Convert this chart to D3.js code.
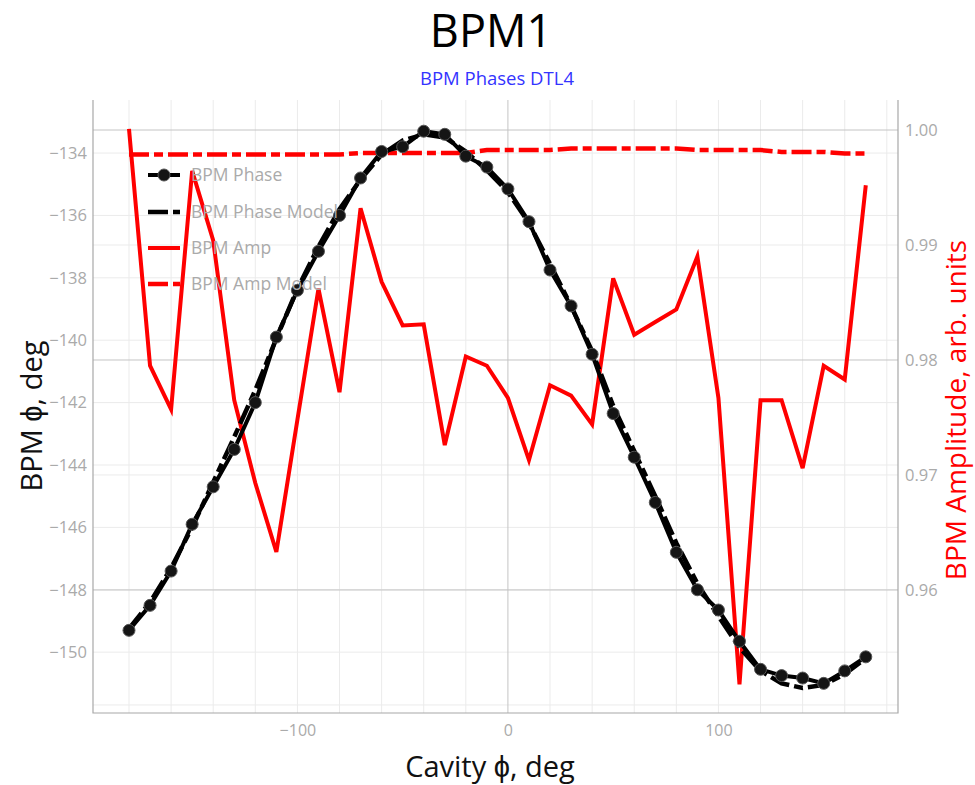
<!DOCTYPE html>
<html><head><meta charset="utf-8">
<script src="https://cdn.jsdelivr.net/npm/d3@7"></script>
<style>body{margin:0;background:#fff}svg{display:block}text{font-family:"Open Sans",sans-serif}</style>
</head><body><svg id="c" width="975" height="785"></svg>
<script>
const cavityPhase = [-180,-170,-160,-150,-140,-130,-120,-110,-100,-90,-80,-70,-60,-50,-40,-30,-20,-10,0,10,20,30,40,50,60,70,80,90,100,110,120,130,140,150,160,170];
const bpmPhase = [-149.3,-148.5,-147.4,-145.9,-144.7,-143.5,-142.0,-139.9,-138.4,-137.15,-136.0,-134.8,-133.95,-133.8,-133.3,-133.4,-134.1,-134.45,-135.15,-136.2,-137.75,-138.9,-140.45,-142.35,-143.75,-145.2,-146.8,-148.0,-148.65,-149.65,-150.55,-150.75,-150.83,-151.0,-150.6,-150.15];
const bpmPhaseModel = [-149.25,-148.4,-147.3,-146.0,-144.55,-143.1,-141.6,-139.95,-138.35,-137.0,-135.8,-134.85,-134.05,-133.6,-133.4,-133.5,-133.95,-134.55,-135.25,-136.25,-137.55,-138.9,-140.35,-142.1,-143.55,-145.0,-146.5,-147.8,-148.85,-149.85,-150.6,-151.0,-151.15,-151.05,-150.7,-150.2];
const bpmAmp = [1.0001,0.9795,0.9757,0.99645,0.9904,0.9765,0.9693,0.9633,0.9748,0.9862,0.9772,0.9932,0.9868,0.9830,0.9831,0.9726,0.9803,0.9795,0.9767,0.9713,0.9778,0.9769,0.9744,0.9871,0.9822,0.9833,0.9844,0.9890,0.9767,0.9518,0.9765,0.9765,0.9706,0.9795,0.9783,0.9952];
const bpmAmpModel = [0.99787,0.99787,0.99787,0.99787,0.99787,0.99787,0.99787,0.99787,0.99787,0.99787,0.99787,0.9980,0.9980,0.9980,0.9980,0.9980,0.9980,0.99826,0.99826,0.99826,0.99826,0.99839,0.99839,0.99839,0.99839,0.99839,0.99839,0.99826,0.99826,0.99826,0.99826,0.99809,0.99809,0.99809,0.99796,0.99796];
const xTicks = [-100,0,100];
const xMinorGrid = [-180,-160,-140,-120,-100,-80,-60,-40,-20,20,40,60,80,100,120,140,160,180];
const yTicks = [-134,-136,-138,-140,-142,-144,-146,-148,-150];
const y2Ticks = [1.00,0.99,0.98,0.97,0.96];
const y2Grid = [1.00,0.99,0.98,0.97,0.96,0.95];
const seriesNames = ["BPM Phase","BPM Phase Model","BPM Amp","BPM Amp Model"];

const svg = d3.select("#c");
const L=93,R=898,T=100,B=713;
const x = d3.scaleLinear().domain([-197.1,185.3]).range([L,R]);
const y = d3.scaleLinear().domain([-151.95,-132.3]).range([B,T]);
const y2 = d3.scaleLinear().domain([0.9493,1.00261]).range([B,T]);
const fmtMinus = d => (d<0?"\u2212":"")+Math.abs(d);

const g = svg.append("g");
// grids
g.selectAll(".gx").data(xMinorGrid).join("line").attr("x1",d=>x(d)).attr("x2",d=>x(d)).attr("y1",T).attr("y2",B).attr("stroke","#ebebeb").attr("stroke-width",1);
g.selectAll(".gy").data(yTicks).join("line").attr("x1",L).attr("x2",R).attr("y1",d=>y(d)).attr("y2",d=>y(d)).attr("stroke","#ebebeb").attr("stroke-width",1);
g.selectAll(".gy2").data(y2Grid).join("line").attr("x1",L).attr("x2",R).attr("y1",d=>y2(d)).attr("y2",d=>y2(d))
  .attr("stroke",d=>Math.round(d*100)%2===0?"#c4c4c4":"#ebebeb").attr("stroke-width",1);
g.append("line").attr("x1",x(0)).attr("x2",x(0)).attr("y1",T).attr("y2",B).attr("stroke","#c4c4c4");
// axis lines
g.append("path").attr("d",`M${L},${T}V${B}H${R}V${T}`).attr("fill","none").attr("stroke","#a8a8a8").attr("stroke-width",1.2);

// axes labels
const ax = d3.axisBottom(x).tickValues(xTicks).tickSize(0).tickFormat(fmtMinus);
const axg = svg.append("g").attr("transform",`translate(0,${B})`).call(ax);
axg.select(".domain").remove();
axg.selectAll("text").attr("dy",null).attr("y",23).attr("font-size",16).attr("fill","#aaa").attr("font-family","Open Sans");
const ayl = d3.axisLeft(y).tickValues(yTicks).tickSize(0).tickFormat(fmtMinus);
const aylg = svg.append("g").attr("transform",`translate(${L},0)`).call(ayl);
aylg.select(".domain").remove();
aylg.selectAll("text").attr("x",-6).attr("font-size",16.5).attr("fill","#aaa").attr("font-family","Open Sans");
const ayr = d3.axisRight(y2).tickValues(y2Ticks).tickSize(0).tickFormat(d3.format(".2f"));
const ayrg = svg.append("g").attr("transform",`translate(${R},0)`).call(ayr);
ayrg.select(".domain").remove();
ayrg.selectAll("text").attr("x",7).attr("font-size",16.5).attr("fill","#aaa").attr("font-family","Open Sans");

// lines
const pts = (arr)=>cavityPhase.map((c,i)=>[c,arr[i]]);
const lineY = d3.line().x(d=>x(d[0])).y(d=>y(d[1]));
const lineY2 = d3.line().x(d=>x(d[0])).y(d=>y2(d[1]));
const dashDot = "20,5,9,5";
svg.append("path").attr("d",lineY2(pts(bpmAmp))).attr("fill","none").attr("stroke","#ff0000").attr("stroke-width",4).attr("stroke-linejoin","miter");
svg.append("path").attr("d",lineY2(pts(bpmAmpModel))).attr("fill","none").attr("stroke","#ff0000").attr("stroke-width",4.5).attr("stroke-dasharray",dashDot);
svg.append("path").attr("d",lineY(pts(bpmPhaseModel))).attr("fill","none").attr("stroke","#000").attr("stroke-width",4.5).attr("stroke-dasharray",dashDot);
svg.append("path").attr("d",lineY(pts(bpmPhase))).attr("fill","none").attr("stroke","#000").attr("stroke-width",4);
svg.selectAll(".pt").data(pts(bpmPhase)).join("circle").attr("cx",d=>x(d[0])).attr("cy",d=>y(d[1])).attr("r",6)
  .attr("fill","#151515").attr("stroke","#555").attr("stroke-width",1);

// legend
const leg = svg.append("g");
const legY = [175,212,248,284];
const legStyle = [
  {c:"#000",dash:null,w:4,m:true},
  {c:"#000",dash:dashDot,w:4.5,m:false},
  {c:"#ff0000",dash:null,w:4,m:false},
  {c:"#ff0000",dash:dashDot,w:4.5,m:false}];
seriesNames.forEach((n,i)=>{
  const s=legStyle[i];
  const l=leg.append("line").attr("x1",148).attr("x2",180).attr("y1",legY[i]).attr("y2",legY[i]).attr("stroke",s.c).attr("stroke-width",s.w);
  if(s.dash) l.attr("stroke-dasharray",s.dash);
  if(s.m) leg.append("circle").attr("cx",164).attr("cy",legY[i]).attr("r",6).attr("fill","#151515").attr("stroke","#555");
  leg.append("text").attr("x",191).attr("y",legY[i]).attr("dy","0.35em").attr("font-size",17.5).attr("fill","#aaa").text(n);
});

// titles
svg.append("text").attr("x",491).attr("y",47).attr("text-anchor","middle").attr("font-size",45).attr("fill","#000").text("BPM1");
svg.append("text").attr("x",497).attr("y",85).attr("text-anchor","middle").attr("font-size",18.5).attr("fill","#3333ff").text("BPM Phases DTL4");
svg.append("text").attr("x",490).attr("y",777).attr("text-anchor","middle").attr("font-size",29).attr("fill","#111").text("Cavity \u03d5, deg");
svg.append("text").attr("transform","translate(42,416) rotate(-90)").attr("text-anchor","middle").attr("font-size",29).attr("fill","#111").text("BPM \u03d5, deg");
svg.append("text").attr("transform","translate(966,410) rotate(-90)").attr("text-anchor","middle").attr("font-size",28).attr("fill","#ff0000").text("BPM Amplitude, arb. units");
</script></body></html>
